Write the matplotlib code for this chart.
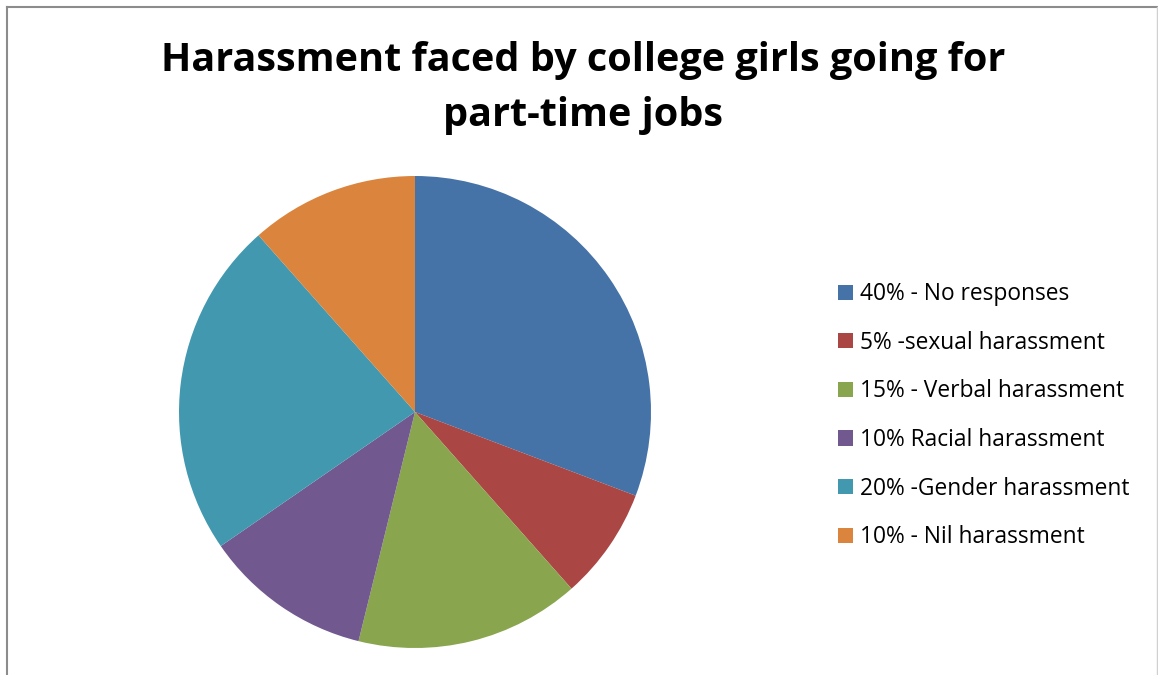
import matplotlib
matplotlib.use("Agg")
import matplotlib.pyplot as plt
from matplotlib.lines import Line2D

title = "Harassment faced by college girls going for\npart-time jobs"
labels = ["40% - No responses", "5% -sexual harassment", "15% - Verbal harassment",
          "10% Racial harassment", "20% -Gender harassment", "10% - Nil harassment"]
values = [40, 10, 20, 15, 30, 15]
colors = ["#4572A7", "#AA4643", "#89A54E", "#71588F", "#4198AF", "#DB843D"]

plt.rcParams['font.family'] = ['Open Sans', 'DejaVu Sans']

W, H = 1158, 675
fig = plt.figure(figsize=(W/100, H/100), dpi=100)
fig.patch.set_facecolor("white")

cx, cy, r = 415, 412, 236
ax = fig.add_axes([(cx - r)/W, (H - cy - r)/H, 2*r/W, 2*r/H])
wedges, _ = ax.pie(values, colors=colors, startangle=90, counterclock=False,
                   radius=1, wedgeprops=dict(linewidth=0))
ax.set_xlim(-1, 1)
ax.set_ylim(-1, 1)
ax.set_aspect('equal')
ax.axis('off')

fig.text(583/W, 1 - 88/H, title, ha='center', va='center', fontsize=28.5,
         fontweight='bold', linespacing=1.52)

leg = fig.legend(wedges, labels, loc='upper left', bbox_to_anchor=(829/W, 1 - 273/H),
                 frameon=False, fontsize=16.4, handlelength=0.65, handleheight=0.65,
                 handletextpad=0.3, labelspacing=1.08, borderaxespad=0)

# chart border
fig.add_artist(Line2D([7/W, 7/W], [0, 1 - 7/H], color='#8c8c8c', lw=1.5, transform=fig.transFigure))
fig.add_artist(Line2D([7/W, 1157/W], [1 - 7/H, 1 - 7/H], color='#8c8c8c', lw=1.5, transform=fig.transFigure))
fig.add_artist(Line2D([1157/W, 1157/W], [0, 1 - 7/H], color='#d0d0d0', lw=1, transform=fig.transFigure))

fig.savefig("out.png", dpi=100)
